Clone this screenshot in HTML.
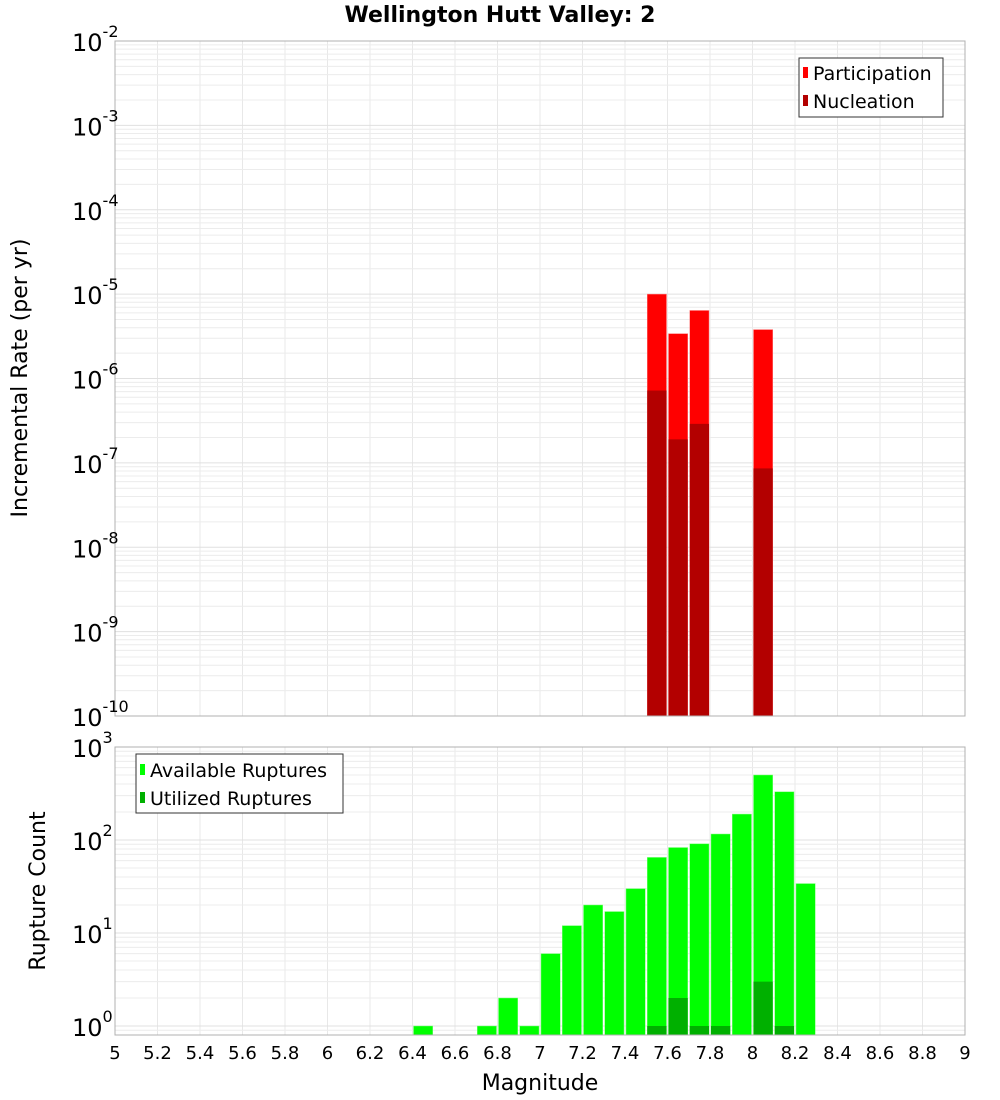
<!DOCTYPE html>
<html><head><meta charset="utf-8"><style>
body{margin:0;background:#fff}
svg{display:block;font-family:"DejaVu Sans","Liberation Sans",sans-serif}
</style></head><body>
<svg id="c" width="1000" height="1100" xmlns="http://www.w3.org/2000/svg"></svg>
<script>
const binStarts=[6.4,6.7,6.8,6.9,7.0,7.1,7.2,7.3,7.4,7.5,7.6,7.7,7.8,7.9,8.0,8.1,8.2];
const available=[1,1,2,1,6,12,20,17,30,65,83,91,116,190,500,330,34];
const utilizedBins=[7.5,7.6,7.7,7.8,8.0,8.1];
const utilized=[1,2,1,1,3,1];
const rateBins=[7.5,7.6,7.7,8.0];
const participation=[1.0e-5,3.4e-6,6.4e-6,3.8e-6];
const nucleation=[7.2e-7,1.9e-7,2.9e-7,8.6e-8];
const xTicks=[5,5.2,5.4,5.6,5.8,6,6.2,6.4,6.6,6.8,7,7.2,7.4,7.6,7.8,8,8.2,8.4,8.6,8.8,9];
const topExps=[-2,-3,-4,-5,-6,-7,-8,-9,-10];
const botExps=[3,2,1,0];

const NS="http://www.w3.org/2000/svg";
const svg=document.getElementById('c');
function el(t,a,p){const e=document.createElementNS(NS,t);for(const k in a)e.setAttribute(k,a[k]);(p||svg).appendChild(e);return e;}
const L=115,R=965;
const xs=m=>L+(m-5)/4*(R-L);
const T1=41,B1=716,topHi=-2,topLo=-10;
const yTop=v=>T1+(topHi-Math.log10(v))/(topHi-topLo)*(B1-T1);
const T2=747,dec2=93,B2=1035;
const yBot=v=>T2+(3-Math.log10(v))*dec2;

function grid(top,bot,yf,expLo,expHi,name){
  const g=el('g',{});
  
  
  for(const t of xTicks){el('line',{x1:xs(t),x2:xs(t),y1:top,y2:bot,stroke:'#e8e8e8','stroke-width':1},g);}
  for(let e=expLo;e<=expHi;e++)for(let k=1;k<10;k++){
    const y=yf(k*Math.pow(10,e));
    if(y<top-0.5||y>bot+0.5)continue;
    el('line',{x1:L,x2:R,y1:y,y2:y,stroke:k==1?'#e0e0e0':'#ececec','stroke-width':1},g);
  }
}
grid(T1,B1,yTop,-10,-3,'top-grid');
grid(T2,B2,yBot,-1,2,'bottom-grid');

// top bars
rateBins.forEach((m,i)=>{
  const x=xs(m)+1,w=xs(m+0.1)-xs(m)-2;
  let r=el('rect',{x:x,y:yTop(participation[i]),width:w,height:B1-yTop(participation[i]),fill:'#ff0000',stroke:'#ff8080','stroke-width':0.5});
  
  
  r=el('rect',{x:x,y:yTop(nucleation[i]),width:w,height:B1-yTop(nucleation[i]),fill:'#b30000'});
  
  
});
// bottom bars
binStarts.forEach((m,i)=>{
  const x=xs(m)+1,w=xs(m+0.1)-xs(m)-2;
  const r=el('rect',{x:x,y:yBot(available[i]),width:w,height:B2-yBot(available[i]),fill:'#00ff00',stroke:'#80ff80','stroke-width':0.5});
  
  
});
utilizedBins.forEach((m,i)=>{
  const x=xs(m)+1,w=xs(m+0.1)-xs(m)-2;
  const r=el('rect',{x:x,y:yBot(utilized[i]),width:w,height:B2-yBot(utilized[i]),fill:'#00b000'});
  
  
});
// frames
let f=el('rect',{x:L,y:T1,width:R-L,height:B1-T1,fill:'none',stroke:'#b0b0b0'});

f=el('rect',{x:L,y:T2,width:R-L,height:B2-T2,fill:'none',stroke:'#b0b0b0'});


function ylab(y,e,name){
  const t=el('text',{x:104,y:y+10,'text-anchor':'end','font-size':24,fill:'#000'});
  
  t.appendChild(document.createTextNode('10'));
  const s=el('tspan',{dy:-14,'font-size':16},t);s.textContent=String(e);
  // shift: put superscript after 10; then re-anchor
  t.setAttribute('text-anchor','start');
  t.setAttribute('x',72);
}
topExps.forEach(e=>ylab(yTop(Math.pow(10,e)),e,'top-y-tick-label'));
botExps.forEach(e=>ylab(yBot(Math.pow(10,e)),e,'bottom-y-tick-label'));
xTicks.forEach(t=>{
  const tx=el('text',{x:xs(t),y:1059,'text-anchor':'middle','font-size':18,fill:'#000'});
  
  tx.textContent=String(t);
});
</script>
<svg width="0" height="0"></svg>
<script>
const s2=document.getElementById('c');
s2.insertAdjacentHTML('beforeend',`
<text x="500" y="22" text-anchor="middle" font-size="22" font-weight="bold">Wellington Hutt Valley: 2</text>
<text transform="translate(27,378) rotate(-90)" text-anchor="middle" font-size="22">Incremental Rate (per yr)</text>
<text transform="translate(45,891) rotate(-90)" text-anchor="middle" font-size="22">Rupture Count</text>
<text x="540" y="1090" text-anchor="middle" font-size="22">Magnitude</text>
<g>
<rect x="799" y="58" width="144" height="59" fill="#fff" stroke="#333"/>
<rect x="803" y="67" width="5" height="11" fill="#ff0000"/>
<text x="813" y="80" font-size="19">Participation</text>
<rect x="803" y="95" width="5" height="11" fill="#b30000"/>
<text x="813" y="108" font-size="19">Nucleation</text>
</g>
<g>
<rect x="136" y="754" width="207" height="59" fill="#fff" stroke="#333"/>
<rect x="140" y="764" width="5" height="11" fill="#00ff00"/>
<text x="150" y="777" font-size="19">Available Ruptures</text>
<rect x="140" y="792" width="5" height="11" fill="#00b000"/>
<text x="150" y="805" font-size="19">Utilized Ruptures</text>
</g>`);
</script>
</body></html>
